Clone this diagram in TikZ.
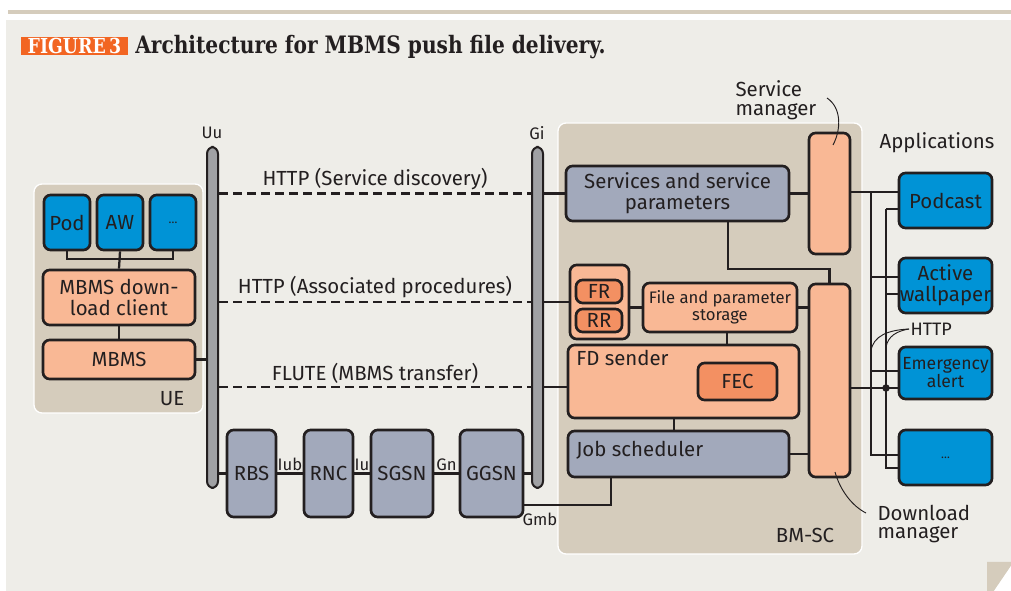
\documentclass[tikz,border=0pt]{standalone}
\usepackage{fontspec}
\setmainfont{Fira Sans}
\newfontfamily\slab{DejaVu Serif}[FakeStretch=0.84]
\definecolor{paper}{HTML}{EEEDE8}
\definecolor{sand}{HTML}{D5CCBC}
\definecolor{ink}{HTML}{231F20}
\definecolor{appblue}{HTML}{0093D6}
\definecolor{salmon}{HTML}{F9B895}
\definecolor{deeporange}{HTML}{F39062}
\definecolor{slate}{HTML}{A2A9BB}
\definecolor{busgrey}{HTML}{A0A1A4}
\definecolor{figorange}{HTML}{F26522}
\tikzset{
	spot/.style n args={4}{at={({(#1+#3)/2},{(#2+#4)/2})},minimum width={(#3-#1)*0.75pt},minimum height={(#4-#2)*0.75pt}},
	box/.style={draw=ink,line width=2pt,rounded corners=5pt,inner sep=0pt,align=center,text=ink,font=\fontsize{15.3}{16}\selectfont},
	appbox/.style={box,fill=appblue},
	mbox/.style={box,fill=salmon},
	fecbox/.style={box,fill=deeporange},
	netbox/.style={box,fill=slate},
	bus/.style={draw=ink,fill=busgrey,line width=1.5pt,rounded corners=5pt,inner sep=0pt},
	area/.style={fill=sand,draw=white,line width=1pt,rounded corners=6pt,inner sep=0pt},
	wire/.style={draw=ink,line width=1.7pt},
	proto/.style={draw=ink,line width=1.7pt,dash pattern=on 6.5pt off 4pt},
	tag/.style={text=ink,font=\fontsize{12.5}{13}\selectfont,inner sep=1pt},
	txt/.style={text=ink,font=\fontsize{15.3}{16}\selectfont,inner sep=1pt,align=left},
	lead/.style={draw=ink,line width=0.7pt}
}
\begin{document}
\begin{tikzpicture}[x=0.75pt,y=-0.75pt]
\useasboundingbox (0,0) rectangle (1011,591);
% page
\fill[white] (0,0) rectangle (1011,591);
\draw[sand,line width=2.5pt] (8,12) -- (1011,12);
\fill[paper] (6,20) rectangle (1011,591);
\fill[sand] (987,562) -- (1011,562) -- (1011,566) -- (994,591) -- (987,591) -- cycle;
\fill[white] (1011,566) -- (1011,591) -- (994,591) -- cycle;

% title
\node[fill=figorange,text=white,inner sep=0pt,font=\slab\bfseries\fontsize{15.5}{16}\selectfont,spot={21}{37}{128}{55}] (fig) {FIGURE\,3};
\node[anchor=base west,inner sep=0pt,text=ink,font=\slab\bfseries\fontsize{18}{18}\selectfont] (ttl) at (135,54) {Architecture for MBMS push file delivery.};

% UE
\node[area,spot={34}{184}{203}{413}] (ue) {};
\node[txt] (uelab) at (172,399) {UE};
\node[appbox,spot={44}{195}{90}{250}] (pod) {Pod};
\node[appbox,spot={97}{195}{143}{250}] (aw) {AW};
\node[appbox,spot={150}{195}{196}{250},font=\small] (more) {\dots};
\node[mbox,spot={43}{270}{195}{325}] (client) {MBMS down-\\load client};
\node[mbox,spot={43}{340}{195}{379}] (mbms) {MBMS};
\coordinate (uehub) at (119,259);
\draw[wire] (pod.south) |- (uehub) -| (more.south);
\draw[wire] (aw.south) -- (client.north);
\draw[wire] (client.south) -- (mbms.north);

% interfaces
\node[bus,spot={207}{147}{218}{488}] (uu) {};
\node[bus,spot={532}{147}{543}{488}] (gi) {};
\node[tag] at (212,133) {Uu};
\node[tag] at (537,133) {Gi};
\draw[wire] (mbms.east) -- (mbms.east -| uu.west);

% BM-SC
\node[area,spot={558}{123}{862}{554}] (bmsc) {};
\node[txt] (bmsclab) at (805,535) {BM-SC};
\node[netbox,spot={566}{166}{789}{221}] (svc) {Services and service\\parameters};
\node[mbox,spot={809}{133}{850}{254}] (smgr) {};
\node[mbox,spot={809}{284}{850}{477}] (dmgr) {};
\node[mbox,spot={570}{265}{629}{339}] (frrr) {};
\node[fecbox,spot={576}{280}{622}{303}] (fr) {FR};
\node[fecbox,spot={576}{309}{622}{332}] (rr) {RR};
\node[mbox,spot={643}{283}{797}{332},font=\fontsize{12.5}{13}\selectfont] (store) {File and parameter\\storage};
\node[mbox,spot={568}{345}{799}{418},label={[txt,anchor=north west,xshift=6pt,yshift=-4pt]north west:FD sender}] (fds) {};
\node[fecbox,spot={698}{363}{777}{400}] (fec) {FEC};
\node[netbox,spot={568}{431}{789}{477},label={[txt,anchor=west,xshift=6pt,yshift=3pt]west:Job scheduler}] (job) {};

\draw[wire] (svc.east) -- (svc.east -| smgr.west);
\draw[wire] ([xshift=38pt]svc.south) |- ([yshift=10pt]dmgr.north) -- (dmgr.north);
\draw[wire] (store.west -| frrr.east) -- (store.west);
\draw[wire] (store.east) -- (store.east -| dmgr.west);
\draw[wire] ([xshift=5pt]store.south) -- ([xshift=5pt]store.south |- fds.north);
\draw[wire] ([xshift=-7pt]fds.south) -- ([xshift=-7pt]fds.south |- job.north);
\draw[wire] (job.east) -- (job.east -| dmgr.west);

% protocols
\draw[proto] (svc.west -| uu.east) -- node[txt,above=1pt] {HTTP (Service discovery)} (svc.west -| gi.west);
\draw[proto] (frrr.west -| uu.east) -- node[txt,above=1pt] {HTTP (Associated procedures)} (frrr.west -| gi.west);
\draw[proto] ([yshift=-4pt]fds.west -| uu.east) -- node[txt,above=1pt] {FLUTE (MBMS transfer)} ([yshift=-4pt]fds.west -| gi.west);
\draw[wire] (svc.west -| gi.east) -- (svc.west);
\draw[wire] (frrr.west -| gi.east) -- (frrr.west);
\draw[wire] ([yshift=-4pt]fds.west -| gi.east) -- ([yshift=-4pt]fds.west);

% radio network
\node[netbox,spot={227}{430}{276}{517}] (rbs) {RBS};
\node[netbox,spot={304}{430}{353}{517}] (rnc) {RNC};
\node[netbox,spot={371}{430}{433}{517}] (sgsn) {SGSN};
\node[netbox,spot={460}{430}{523}{517}] (ggsn) {GGSN};
\draw[wire] (rbs.west -| uu.east) -- (rbs.west);
\draw[wire] (rbs.east) -- node[tag,above] {Iub} (rnc.west);
\draw[wire] (rnc.east) -- node[tag,above] {Iu} (sgsn.west);
\draw[wire] (sgsn.east) -- node[tag,above] {Gn} (ggsn.west);
\draw[wire] (ggsn.east) -- (ggsn.east -| gi.west);
\draw[wire] ([yshift=-23.5pt]ggsn.east) -| ([xshift=-50.5pt]job.south);
\node[tag] (gmb) at (540,519) {Gmb};

% applications
\node[txt] (applab) at (937,143) {Applications};
\node[appbox,spot={899}{173}{992}{228}] (podcast) {Podcast};
\node[appbox,spot={899}{258}{992}{313}] (wall) {Active\\wallpaper};
\node[appbox,spot={899}{347}{992}{399},font=\fontsize{13.2}{13.5}\selectfont] (alert) {Emergency\\alert};
\node[appbox,spot={899}{430}{992}{485},font=\small] (etc) {\dots};

\coordinate (a1) at (899,192); \coordinate (a2) at (899,277);
\coordinate (a3) at (899,371); \coordinate (a4) at (899,455);
\coordinate (b1) at (899,209); \coordinate (b2) at (899,294);
\coordinate (b3) at (899,388); \coordinate (b4) at (899,468);
\coordinate (railA) at (871,192); \coordinate (railB) at (886,209);
\draw[wire] (smgr.east |- a1) -- (a1);
\draw[wire] (railA) |- (a4);
\draw[wire] (railA |- a2) -- (a2);
\draw[wire] (railA |- a3) -- (a3);
\draw[wire] (railB) -- (b1);
\draw[wire] (railB) |- (b4);
\draw[wire] (railB |- b2) -- (b2);
\draw[wire] (dmgr.east |- b3) -- (b3);
\fill[ink] (railB |- b3) circle (2.8pt);

% callouts
\node[txt,anchor=west,font=\fontsize{13.5}{14}\selectfont] (http) at (909,329) {HTTP};
\coordinate (hA) at (871,351); \coordinate (hB) at (886,347);
\draw[lead] (http.west) .. controls (888,330) and (873,336) .. (hA);
\draw[lead] (http.west) .. controls (897,331) and (888,336) .. (hB);
\node[txt,anchor=west,align=left,font=\fontsize{15.3}{14}\selectfont] (smlab) at (734,100) {Service\\manager};
\coordinate (smfrom) at (827,98); \coordinate (smto) at (833,145);
\draw[lead] (smfrom) .. controls (842,108) and (841,130) .. (smto);
\node[txt,anchor=west,align=left,font=\fontsize{15.3}{14}\selectfont] (dmlab) at (876,524) {Download\\manager};
\coordinate (dmfrom) at (835,472); \coordinate (dmto) at (866,513);
\draw[lead] (dmfrom) .. controls (840,490) and (852,506) .. (dmto);
\end{tikzpicture}
\end{document}
